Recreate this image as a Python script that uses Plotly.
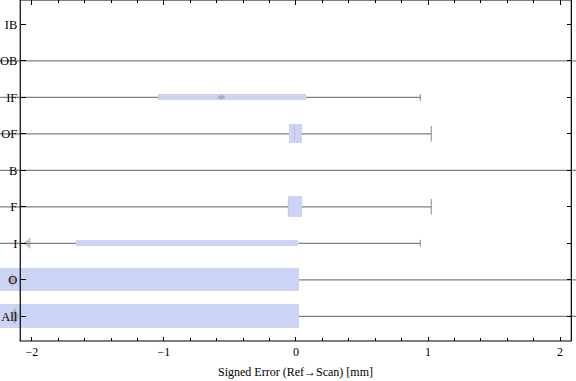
import plotly.graph_objects as go

# ---- data ----
categories = ["All", "O", "I", "F", "B", "OF", "IF", "OB", "IB"]
q1 = [-2.6, -2.6, -1.667, -0.061, None, -0.053, -1.043, None, None]
q3 = [0.023, 0.023, 0.018, 0.043, None, 0.043, 0.076, None, None]
median = [-2.13, -2.15, -2.03, -0.06, None, -0.01, -0.565, None, None]
whisker_lo = [-2.8, -2.8, -2.6, -2.6, -2.6, -2.6, -2.6, -2.6, None]
whisker_hi = [2.4, 2.4, 0.942, 1.025, 2.4, 1.025, 0.942, 2.4, None]
x_ticks = [-2, -1, 0, 1, 2]
x_ticktext = ["\u22122", "\u22121", "0", "1", "2"]
x_title = "Signed Error (Ref\u2192Scan) [mm]"

# ---- styles ----
box_width = [0.65, 0.62, 0.165, 0.57, 0, 0.51, 0.165, 0, 0]
cap_size = [16, 16, 5, 11, 8, 11, 5, 8, 0]
med_symbol = ["diamond-tall", "diamond-tall", "triangle-left", "line-ns", "line-ns",
              "line-ns", "diamond-wide", "line-ns", "line-ns"]
med_size = [11, 9, 9, 10, 0, 10, 6, 0, 0]
BOX = "#CDD3F5"
GRAY = "#808080"
FONT = "Liberation Serif"

pos = list(range(len(categories)))

# whisker segments (outside the box)
wx, wy = [], []
for i in pos:
    if whisker_lo[i] is None:
        continue
    if q1[i] is None:
        wx += [whisker_lo[i], whisker_hi[i], None]
        wy += [i, i, None]
    else:
        wx += [whisker_lo[i], q1[i], None, q3[i], whisker_hi[i], None]
        wy += [i, i, None, i, i, None]

fig = go.Figure()
fig.add_trace(go.Scatter(x=wx, y=wy, mode="lines", line=dict(color=GRAY, width=1.2),
                         hoverinfo="skip", showlegend=False))
# caps
cx, cy, cs = [], [], []
for i in pos:
    if whisker_hi[i] is None:
        continue
    cx += [whisker_lo[i], whisker_hi[i]]
    cy += [i, i]
    cs += [cap_size[i], cap_size[i]]
fig.add_trace(go.Scatter(x=cx, y=cy, mode="markers",
                         marker=dict(symbol="line-ns", size=cs, line=dict(color=GRAY, width=1.3)),
                         hoverinfo="skip", showlegend=False))
# boxes
bx_base, bx_len, bx_y, bx_w = [], [], [], []
for i in pos:
    if q1[i] is None:
        continue
    bx_base.append(q1[i]); bx_len.append(q3[i] - q1[i]); bx_y.append(i); bx_w.append(box_width[i])
fig.add_trace(go.Bar(x=bx_len, base=bx_base, y=bx_y, width=bx_w, orientation="h",
                     marker=dict(color=BOX, line=dict(width=0)), hoverinfo="skip",
                     showlegend=False))
# medians (on the right-hand overlay axis)
mx, my, msym, msz = [], [], [], []
for i in pos:
    if median[i] is None:
        continue
    mx.append(median[i]); my.append(i); msym.append(med_symbol[i]); msz.append(med_size[i])
fig.add_trace(go.Scatter(x=mx, y=my, yaxis="y2", mode="markers",
                         marker=dict(symbol=msym, size=msz, color="rgba(120,120,120,0.6)",
                                     line=dict(color="rgba(150,150,150,0.5)", width=0.8)),
                         hoverinfo="skip", showlegend=False))

W, H = 576, 381
left_px, right_px = 20.3, 571.3
x_range = [-2.242, 2.121]
y_range = [-0.677, 8.666]
minor_vals = [round(-2 + 0.2 * k, 1) for k in range(21) if k % 5 != 0]

fig.update_layout(
    width=W, height=H,
    margin=dict(l=0, r=0, t=0, b=40),
    plot_bgcolor="white", paper_bgcolor="white",
    bargap=0, barmode="overlay",
    xaxis=dict(range=x_range, tickmode="array", tickvals=x_ticks, ticktext=x_ticktext,
               ticks="inside", ticklen=4.5, tickwidth=1, tickcolor="black", mirror="ticks",
               showline=False, showgrid=False, zeroline=False, ticklabelstandoff=2,
               tickfont=dict(family=FONT, size=12, color="black"),
               minor=dict(tickmode="array", tickvals=minor_vals, ticks="inside",
                          ticklen=2.7, tickwidth=1, tickcolor="black", showgrid=False)),
    yaxis=dict(range=y_range, tickmode="array", tickvals=pos, ticktext=categories,
               anchor="free", position=left_px / W, side="left",
               ticks="inside", ticklen=4.5, tickwidth=1, tickcolor="black",
               showline=False, showgrid=False, zeroline=False, ticklabelstandoff=3,
               tickfont=dict(family=FONT, size=12.5, color="black")),
    yaxis2=dict(range=y_range, tickmode="array", tickvals=pos, overlaying="y",
                anchor="free", position=right_px / W, side="right",
                ticks="inside", ticklen=4.5, tickwidth=1, tickcolor="black",
                showticklabels=False, showline=False, showgrid=False, zeroline=False),
    shapes=[dict(type="rect", xref="x", yref="paper",
                 x0=(left_px - 296) / 132, x1=(right_px - 296) / 132, y0=0, y1=1,
                 line=dict(color="black", width=1.2), fillcolor="rgba(0,0,0,0)")],
    annotations=[dict(text=x_title, xref="x", yref="paper", x=0, y=0, yshift=-31,
                      yanchor="middle", xanchor="center", showarrow=False,
                      font=dict(family=FONT, size=12, color="black"))],
)

fig.write_html("out.html")
